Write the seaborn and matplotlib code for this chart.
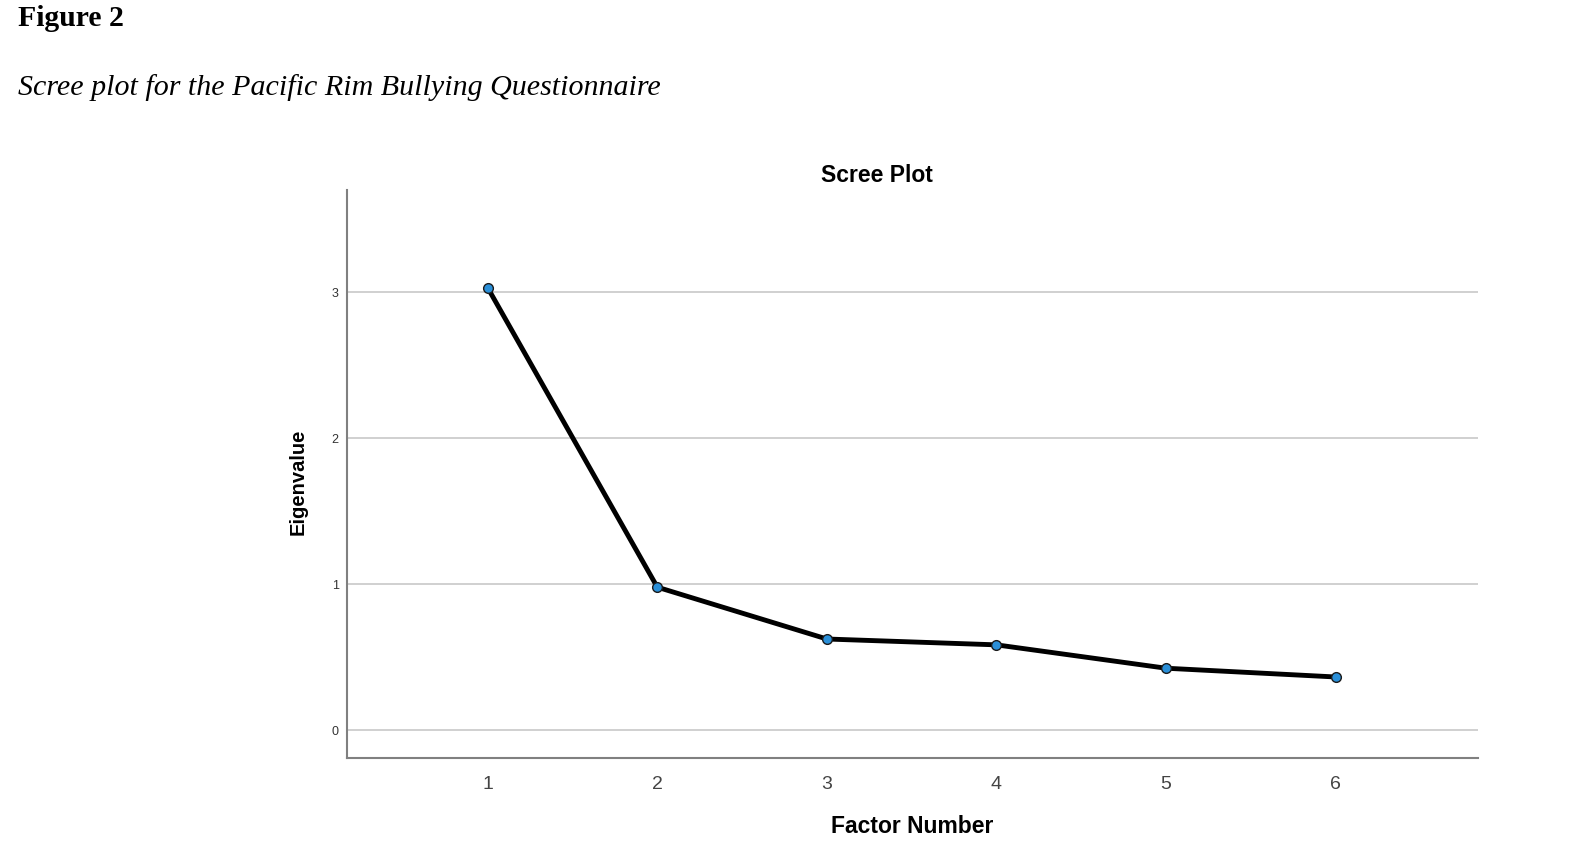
import pandas as pd
import seaborn as sns
import matplotlib.pyplot as plt

factor_number = [1, 2, 3, 4, 5, 6]
eigenvalue = [3.03, 0.98, 0.625, 0.585, 0.425, 0.365]

sns.set_theme(style='white')
plt.rcParams['font.family'] = ['Liberation Sans', 'DejaVu Sans']
plt.rcParams['text.color'] = 'black'
plt.rcParams['axes.labelcolor'] = 'black'

df = pd.DataFrame({'Factor Number': factor_number, 'Eigenvalue': eigenvalue})

fig = plt.figure(figsize=(15.73, 8.57), dpi=100)
ax = fig.add_axes([0.2206, 0.1155, 0.719, 0.6628])

for y in [0, 1, 2, 3]:
    ax.axhline(y, color='#c8c8c8', lw=1.2, zorder=0)

sns.lineplot(df, x='Factor Number', y='Eigenvalue', ax=ax, color='black', lw=3.5,
             marker='o', markersize=7, markerfacecolor='#2a8fd8', markeredgecolor='#1a1a1a',
             markeredgewidth=1)

ax.set_xlim(0.17, 6.84)
ax.set_ylim(-0.19, 3.7)
ax.set_xticks(factor_number)
ax.set_yticks([0, 1, 2, 3])
ax.tick_params(axis='x', labelsize=14, labelcolor='#444444', length=0, pad=13)
ax.tick_params(axis='y', labelsize=9, labelcolor='#333333', length=0, pad=6)

for side in ['top', 'right']:
    ax.spines[side].set_visible(False)
for side in ['left', 'bottom']:
    ax.spines[side].set_color('#808080')
    ax.spines[side].set_linewidth(1.5)

ax.set_xlabel('Factor Number', fontsize=16.5, fontweight='bold', labelpad=16)
ax.set_ylabel('Eigenvalue', fontsize=14.5, fontweight='bold')
ax.yaxis.set_label_coords(-0.035, 0.487)
ax.set_title('Scree Plot', fontsize=16.5, fontweight='bold', pad=6, x=0.469)

fig.text(0.0115, 0.994, 'Figure 2', fontsize=21.4, fontweight='bold', family='Liberation Serif', va='top')
fig.text(0.0115, 0.898, 'Scree plot for the Pacific Rim Bullying Questionnaire', fontsize=21.6,
         style='italic', family='Liberation Serif', va='center')

plt.savefig('out.png', dpi=100)
